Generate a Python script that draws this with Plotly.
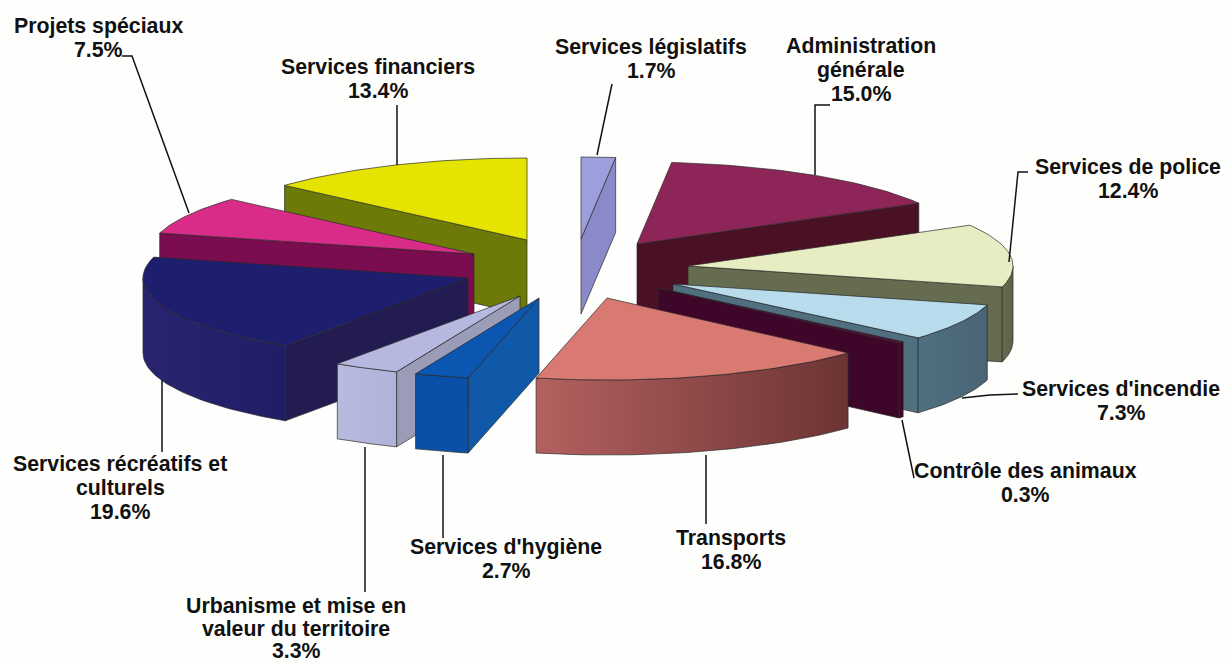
import math
import plotly.graph_objects as go

categories = ["Services législatifs", "Administration générale", "Services de police",
              "Services d'incendie", "Contrôle des animaux", "Transports",
              "Services d'hygiène", "Urbanisme et mise en valeur du territoire",
              "Services récréatifs et culturels", "Projets spéciaux", "Services financiers"]
values = [1.7, 15.0, 12.4, 7.3, 0.3, 16.8, 2.7, 3.3, 19.6, 7.5, 13.4]
top_colors = ["#9c9fdc", "#8e2558", "#e8ecc2", "#b8dcec", "#5c0a38", "#d87a72",
              "#0a56b0", "#b6b8e0", "#1e1e6e", "#d82c88", "#e4e400"]
radial_colors = ["#8a8aca", "#4a1024", "#666c50", "#507080", "#3e0628", "#9c4c48",
                 "#1058a8", "#9a9cb8", "#221c50", "#7a0c50", "#6e7a08"]
arc_left = ["#8a8aca", "#4a1024", "#666c50", "#4e7080", "#3e0628", "#b46060",
            "#0a50a8", "#b8bade", "#2a2470", "#7a0c50", "#6e7a08"]
arc_right = ["#8a8aca", "#4a1024", "#5c6248", "#4a6474", "#3e0628", "#6c3434",
             "#0a50a8", "#b0b2d8", "#1e1e66", "#7a0c50", "#6e7a08"]
apex_x = [581, 637, 688, 673, 658, 607, 539, 520, 468, 474, 527]
apex_y = [239, 244, 266, 284, 288, 298, 298, 296, 278, 254, 240]
draw_order = [0, 10, 1, 9, 2, 8, 3, 4, 7, 6, 5]

labels = ["Services législatifs<br>1.7%", "Administration<br>générale<br>15.0%",
          "Services de police<br>12.4%", "Services d'incendie<br>7.3%",
          "Contrôle des animaux<br>0.3%", "Transports<br>16.8%",
          "Services d'hygiène<br>2.7%", "Urbanisme et mise en<br>valeur du territoire<br>3.3%",
          "Services récréatifs et<br>culturels<br>19.6%", "Projets spéciaux<br>7.5%",
          "Services financiers<br>13.4%"]
label_x = [651, 861, 1128, 1121, 1025, 731, 506, 296, 120, 98, 378]
label_y = [47, 46, 167, 389, 471, 538, 547, 606, 464, 26, 67]
label_step = [24, 24, 24, 24, 24, 24, 24, 22.5, 24, 24, 24]
leader_x = [[597, 612], [815, 815, 830], [1009, 1018, 1028], [962, 990, 1018], [902, 914],
            [706, 706], [443, 443], [365, 365], [162, 162], [189, 132, 122], [397, 397]]
leader_y = [[155, 84], [175, 105, 105], [262, 172, 172], [398, 395, 394], [420, 478],
            [455, 524], [455, 538], [447, 592], [380, 452], [213, 56, 56], [165, 105]]

RX, RY, DEPTH = 325, 82, 75
EDGE = dict(color="#2a2a2a", width=0.7)

angles = []
total = 0
for v in values:
    angles.append((total * 3.6, (total + v) * 3.6))
    total += v

fig = go.Figure()


def point(cx, cy, deg):
    r = math.radians(deg)
    return cx + RX * math.sin(r), cy - RY * math.cos(r)


def poly(xs, ys, fill, name, right=None):
    style = dict(fillcolor=fill)
    if right is not None and right != fill:
        style = dict(fillgradient=dict(type="horizontal", colorscale=[[0, fill], [1, right]]))
    fig.add_trace(go.Scatter(x=xs + xs[:1], y=ys + ys[:1], mode="lines", fill="toself",
                             line=EDGE, hoverinfo="text", text=name, showlegend=False, **style))


for i in draw_order:
    a0, a1 = angles[i]
    cx, cy = apex_x[i], apex_y[i]
    name = categories[i]
    if 180 < a0 < 360:
        x0, y0 = point(cx, cy, a0)
        poly([cx, x0, x0, cx], [cy, y0, y0 + DEPTH, cy + DEPTH], radial_colors[i], name)
    if 0 < a1 < 180:
        x1, y1 = point(cx, cy, a1)
        poly([cx, x1, x1, cx], [cy, y1, y1 + DEPTH, cy + DEPTH], radial_colors[i], name)
    lo, hi = max(a0, 90), min(a1, 270)
    if hi > lo:
        steps = [lo + (hi - lo) * k / 40 for k in range(41)]
        arc = [point(cx, cy, d) for d in steps]
        poly([p[0] for p in arc] + [p[0] for p in reversed(arc)],
             [p[1] for p in arc] + [p[1] + DEPTH for p in reversed(arc)],
             arc_left[i], name, arc_right[i])
    steps = [a0 + (a1 - a0) * k / 40 for k in range(41)]
    arc = [point(cx, cy, d) for d in steps]
    poly([cx] + [p[0] for p in arc], [cy] + [p[1] for p in arc], top_colors[i], name)

for lx, ly in zip(leader_x, leader_y):
    fig.add_trace(go.Scatter(x=lx, y=ly, mode="lines", line=dict(color="#111111", width=1.5),
                             hoverinfo="skip", showlegend=False))

for text, x, y, step in zip(labels, label_x, label_y, label_step):
    for k, part in enumerate(text.split("<br>")):
        fig.add_annotation(x=x, y=y + k * step, text=f"<b>{part}</b>", showarrow=False,
                           xanchor="center", yanchor="middle",
                           font=dict(family="Liberation Sans", size=21.3, color="#111111"))

fig.update_layout(width=1227, height=664, margin=dict(l=0, r=0, t=0, b=0),
                  paper_bgcolor="#fefefc", plot_bgcolor="#fefefc",
                  xaxis=dict(range=[0, 1227], visible=False),
                  yaxis=dict(range=[664, 0], visible=False))
fig.write_html("out.html", config={"displayModeBar": False},
               post_script="document.body.style.margin='0';document.body.style.background='#fefefc';")
